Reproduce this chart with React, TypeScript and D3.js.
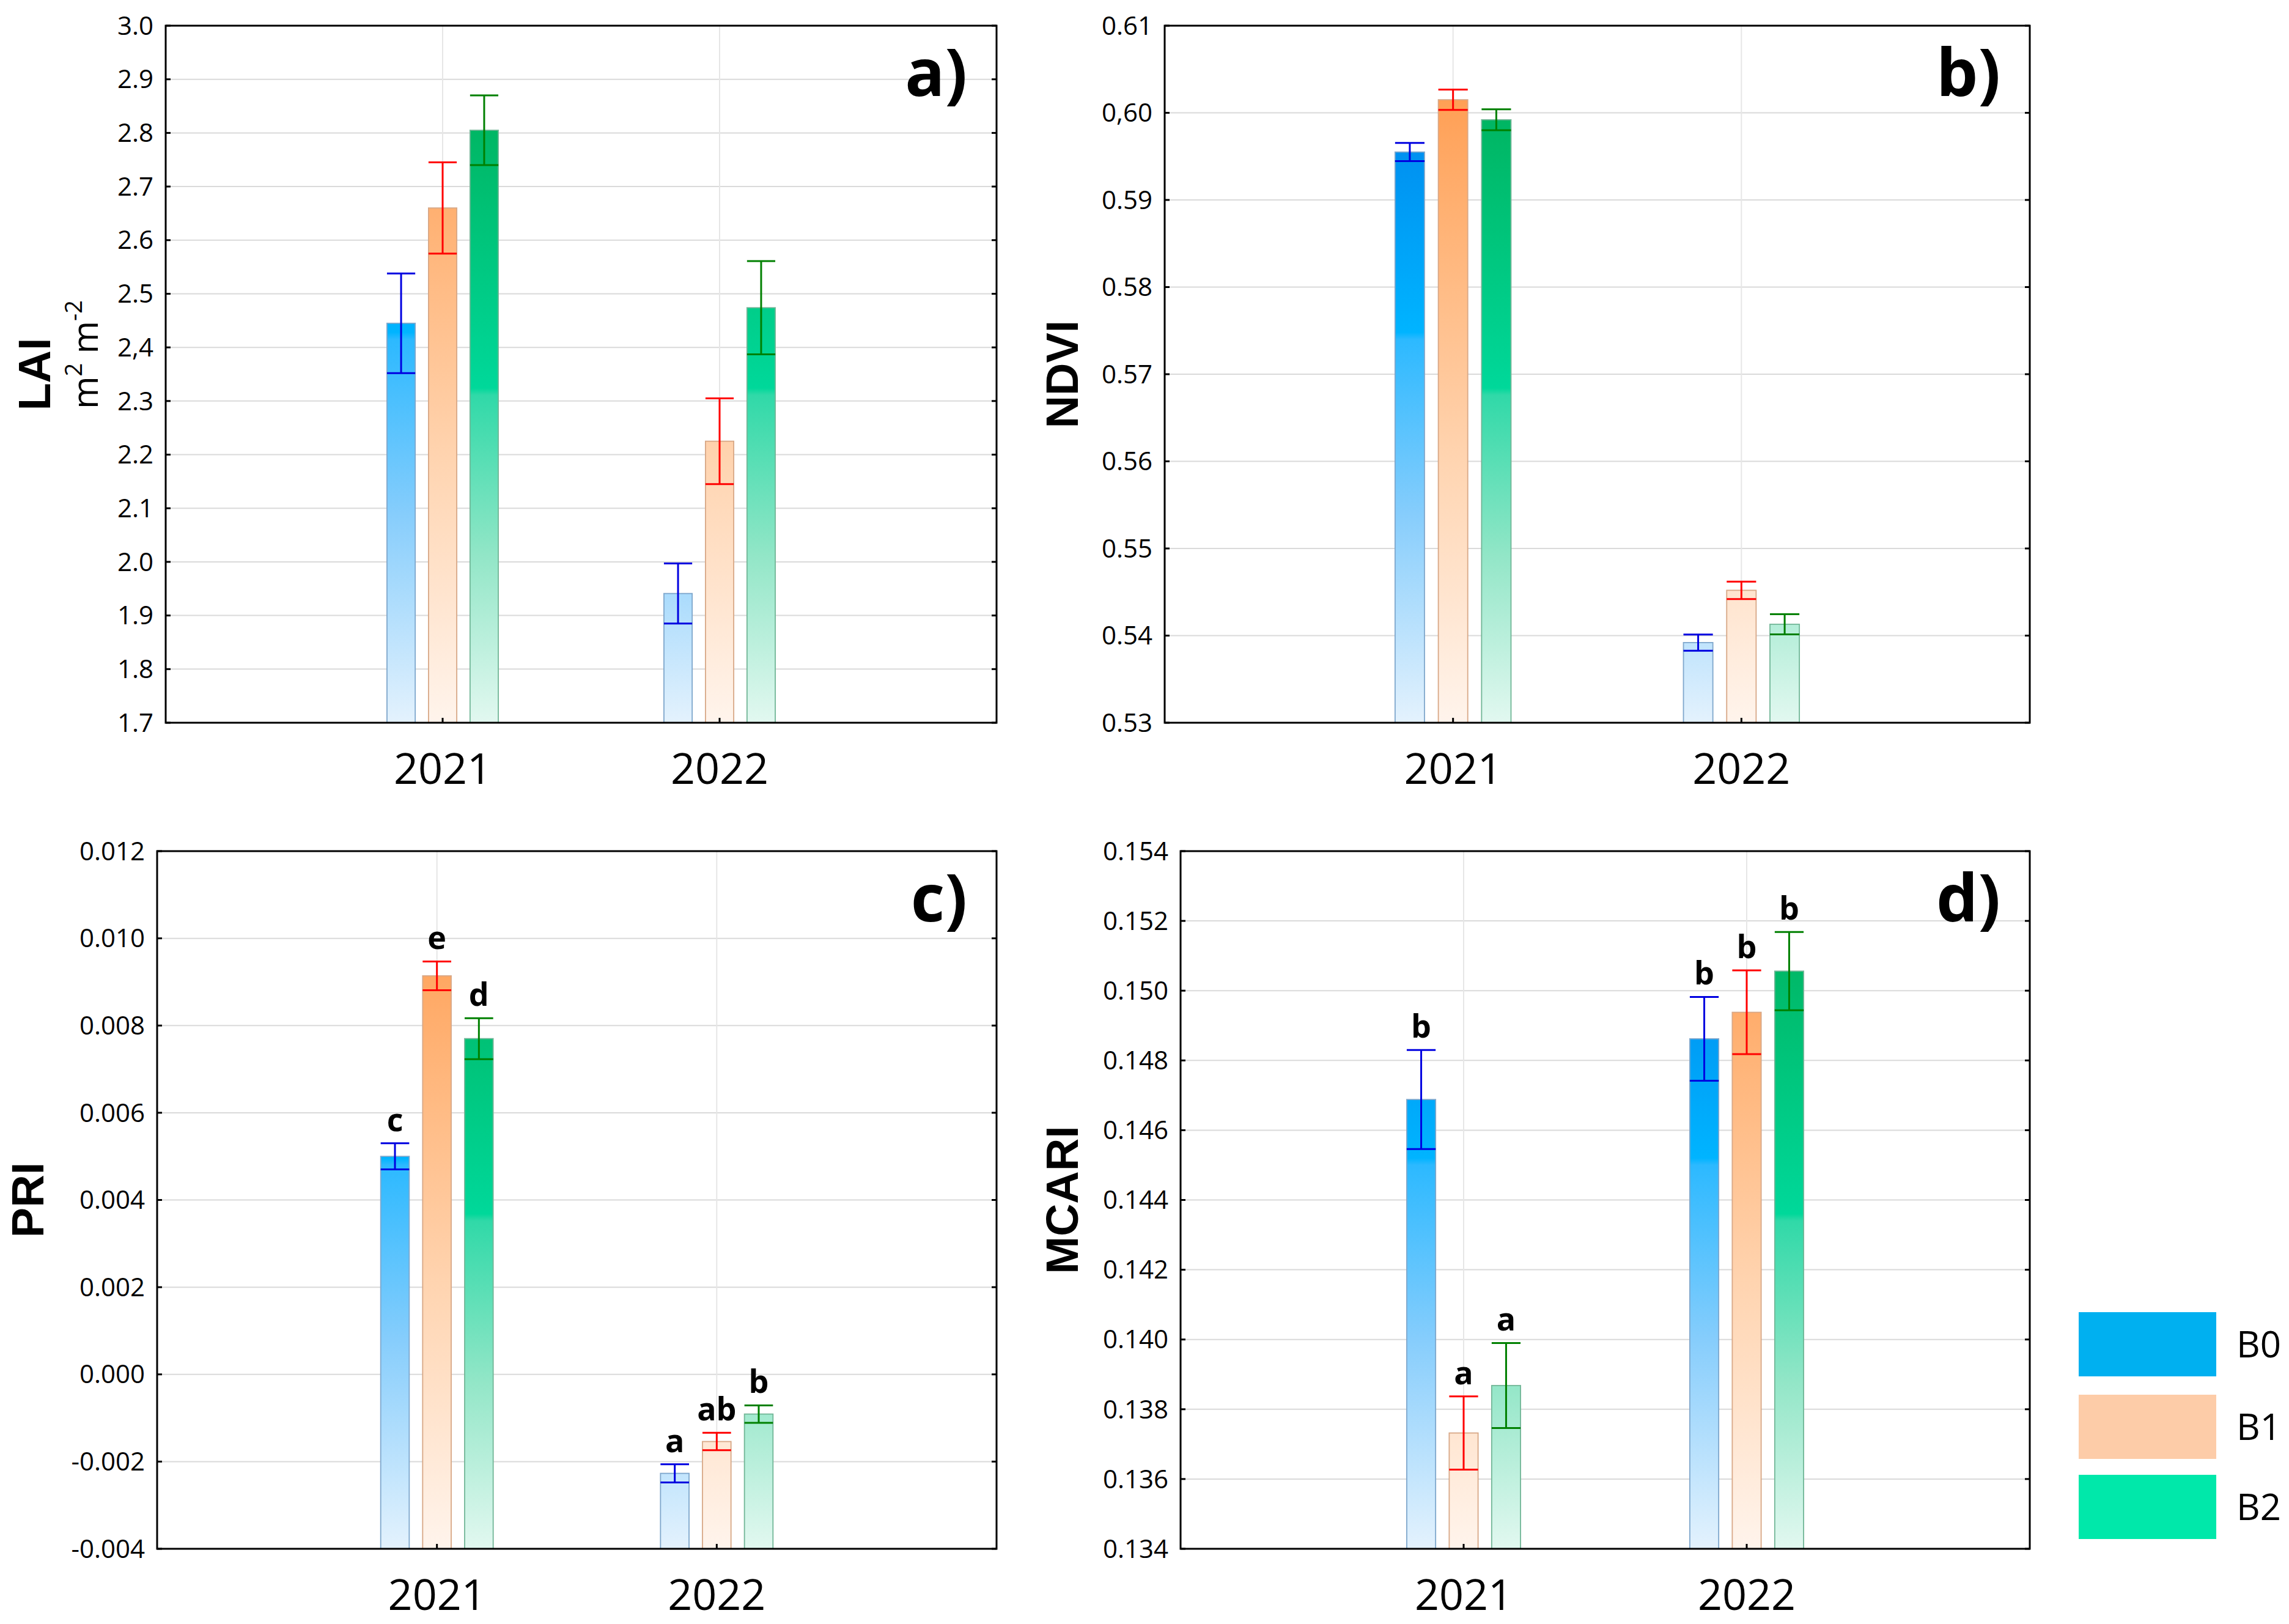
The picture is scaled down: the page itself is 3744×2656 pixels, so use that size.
import React from 'react';
import * as d3 from 'd3';

// categories and treatments
const years = ['2021', '2022'];
const treatments = ['B0', 'B1', 'B2'];

// [year][treatment] means and standard errors
const laiMean = [[2.445, 2.66, 2.805], [1.941, 2.225, 2.474]];
const laiErr = [[0.093, 0.085, 0.065], [0.056, 0.08, 0.087]];
const ndviMean = [[0.5955, 0.6015, 0.5992], [0.5392, 0.5452, 0.5413]];
const ndviErr = [[0.00105, 0.00117, 0.0012], [0.00093, 0.001, 0.00116]];
const priMean = [[0.005, 0.00914, 0.0077], [-0.00227, -0.00154, -0.00091]];
const priErr = [[0.0003, 0.00033, 0.00047], [0.00021, 0.0002, 0.0002]];
const priLetters = [['c', 'e', 'd'], ['a', 'ab', 'b']];
const mcariMean = [[0.14688, 0.13732, 0.13868], [0.14862, 0.14938, 0.15056]];
const mcariErr = [[0.00142, 0.00105, 0.00122], [0.0012, 0.0012, 0.00112]];
const mcariLetters = [['b', 'a', 'a'], ['b', 'b', 'b']];

// y ticks
const laiTicks = [1.7, 1.8, 1.9, 2.0, 2.1, 2.2, 2.3, 2.4, 2.5, 2.6, 2.7, 2.8, 2.9, 3.0];
const laiTickLabels = ['1.7', '1.8', '1.9', '2.0', '2.1', '2.2', '2.3', '2,4', '2.5', '2.6', '2.7', '2.8', '2.9', '3.0'];
const ndviTicks = [0.53, 0.54, 0.55, 0.56, 0.57, 0.58, 0.59, 0.6, 0.61];
const ndviTickLabels = ['0.53', '0.54', '0.55', '0.56', '0.57', '0.58', '0.59', '0,60', '0.61'];
const priTicks = [-0.004, -0.002, 0, 0.002, 0.004, 0.006, 0.008, 0.01, 0.012];
const priTickLabels = ['-0.004', '-0.002', '0.000', '0.002', '0.004', '0.006', '0.008', '0.010', '0.012'];
const mcariTicks = [0.134, 0.136, 0.138, 0.14, 0.142, 0.144, 0.146, 0.148, 0.15, 0.152, 0.154];
const mcariTickLabels = ['0.134', '0.136', '0.138', '0.140', '0.142', '0.144', '0.146', '0.148', '0.150', '0.152', '0.154'];

const W = 3744;
const H = 2656;
const TICK_FONT = '"Open Sans", "Noto Sans", sans-serif';
const TITLE_FONT = '"Liberation Sans", Arial, sans-serif';

// gradient stops per treatment (top of plot -> bottom of plot)
const gradStops = [
  [[0, '#0078e6'], [0.44, '#00b4ff'], [0.45, '#2cb9ff'], [0.7, '#86cdfc'], [1, '#e4f2fd']],
  [[0, '#ff9442'], [0.3, '#ffb478'], [0.62, '#ffd4b0'], [1, '#fff4ec']],
  [[0, '#00a94f'], [0.52, '#00d89a'], [0.53, '#30d9a8'], [0.76, '#92e6c7'], [1, '#e2f8f0']],
];
const barStroke = ['#7fa7cc', '#d8a887', '#72b697'];
const errColor = ['#0000e0', '#ff0000', '#008000'];
const legendColor = ['#00b0f0', '#fdcca8', '#00e8aa'];

type Panel = {
  id: string;
  label: string;
  title: string;
  unit?: boolean;
  left: number; right: number; top: number; bottom: number;
  ticks: number[]; tickLabels: string[];
  mean: number[][]; err: number[][];
  letters?: string[][];
  titleX: number;
};

const panels: Panel[] = [
  { id: 'a', label: 'a)', title: 'LAI', unit: true, left: 271, right: 1630, top: 42, bottom: 1182,
    ticks: laiTicks, tickLabels: laiTickLabels, mean: laiMean, err: laiErr, titleX: 82 },
  { id: 'b', label: 'b)', title: 'NDVI', left: 1905, right: 3320, top: 42, bottom: 1182,
    ticks: ndviTicks, tickLabels: ndviTickLabels, mean: ndviMean, err: ndviErr, titleX: 1763 },
  { id: 'c', label: 'c)', title: 'PRI', left: 257, right: 1630, top: 1392, bottom: 2533,
    ticks: priTicks, tickLabels: priTickLabels, mean: priMean, err: priErr, letters: priLetters, titleX: 71 },
  { id: 'd', label: 'd)', title: 'MCARI', left: 1931, right: 3320, top: 1392, bottom: 2533,
    ticks: mcariTicks, tickLabels: mcariTickLabels, mean: mcariMean, err: mcariErr, letters: mcariLetters, titleX: 1763 },
];

const PanelChart: React.FC<{ p: Panel }> = ({ p }) => {
  const x = d3.scalePoint<string>().domain(years).range([p.left, p.right]).padding(1);
  const y = d3.scaleLinear()
    .domain([p.ticks[0], p.ticks[p.ticks.length - 1]])
    .range([p.bottom, p.top]);
  const w = p.right - p.left;
  const spacing = w * 0.05;
  const bw = w * 0.034;
  const midY = (p.top + p.bottom) / 2;

  return (
    <g>
      <defs>
        {treatments.map((t, i) => (
          <linearGradient key={t} id={`g-${p.id}-${i}`} gradientUnits="userSpaceOnUse"
            x1={0} x2={0} y1={p.top} y2={p.bottom}>
            {gradStops[i].map(([o, c], k) => (
              <stop key={k} offset={o as number} stopColor={c as string} />
            ))}
          </linearGradient>
        ))}
      </defs>

      {/* grid */}
      {p.ticks.slice(1, -1).map(t => (
        <line key={t} x1={p.left} x2={p.right} y1={y(t)} y2={y(t)} stroke="#dadada" strokeWidth={2} />
      ))}
      {years.map(yr => (
        <line key={yr} x1={x(yr)} x2={x(yr)} y1={p.top} y2={p.bottom} stroke="#e6e6e6" strokeWidth={2} />
      ))}

      {/* bars */}
      {years.map((yr, yi) => treatments.map((t, ti) => {
        const cx = (x(yr) as number) + (ti - 1) * spacing;
        const m = p.mean[yi][ti];
        return (
          <rect key={yr + t} x={cx - bw / 2} y={y(m)} width={bw} height={p.bottom - y(m)}
            fill={`url(#g-${p.id}-${ti})`} stroke={barStroke[ti]} strokeWidth={1.8} />
        );
      }))}

      {/* error bars */}
      {years.map((yr, yi) => treatments.map((t, ti) => {
        const cx = (x(yr) as number) + (ti - 1) * spacing;
        const m = p.mean[yi][ti];
        const e = p.err[yi][ti];
        const yt = y(m + e);
        const yb = y(m - e);
        return (
          <g key={'e' + yr + t} stroke={errColor[ti]} strokeWidth={3}>
            <line x1={cx} x2={cx} y1={yt} y2={yb} />
            <line x1={cx - bw / 2} x2={cx + bw / 2} y1={yt} y2={yt} />
            <line x1={cx - bw / 2} x2={cx + bw / 2} y1={yb} y2={yb} />
          </g>
        );
      }))}

      {/* significance letters */}
      {p.letters && years.map((yr, yi) => treatments.map((t, ti) => {
        const cx = (x(yr) as number) + (ti - 1) * spacing;
        const top = y(p.mean[yi][ti] + p.err[yi][ti]);
        return (
          <text key={'l' + yr + t} x={cx} y={top - 20} textAnchor="middle"
            fontFamily={TICK_FONT} fontWeight="bold" fontSize={52}>{p.letters![yi][ti]}</text>
        );
      }))}

      {/* frame */}
      <rect x={p.left} y={p.top} width={w} height={p.bottom - p.top} fill="none" stroke="#000" strokeWidth={3} />

      {/* y ticks */}
      {p.ticks.map((t, i) => (
        <g key={'t' + t}>
          <line x1={p.left} x2={p.left + 8} y1={y(t)} y2={y(t)} stroke="#000" strokeWidth={3} />
          <line x1={p.right - 8} x2={p.right} y1={y(t)} y2={y(t)} stroke="#000" strokeWidth={3} />
          <text x={p.left - 20} y={y(t)} dy="0.35em" textAnchor="end" fontFamily={TICK_FONT} fontSize={42}>
            {p.tickLabels[i]}
          </text>
        </g>
      ))}

      {/* x ticks */}
      {years.map(yr => (
        <g key={'x' + yr}>
          <line x1={x(yr)} x2={x(yr)} y1={p.bottom} y2={p.bottom - 8} stroke="#000" strokeWidth={3} />
          <text x={x(yr)} y={p.bottom + 100} textAnchor="middle" fontFamily={TICK_FONT} fontSize={70}>{yr}</text>
        </g>
      ))}

      {/* panel label */}
      <text x={p.right - 48} y={p.top + 115} textAnchor="end" fontFamily={TICK_FONT} fontWeight="bold" fontSize={108}>
        {p.label}
      </text>

      {/* y title */}
      <text transform={`translate(${p.titleX},${midY}) rotate(-90)`} textAnchor="middle"
        fontFamily={TITLE_FONT} fontWeight="bold" fontSize={74}>{p.title}</text>
      {p.unit && (
        <text transform={`translate(160,${midY - 32}) rotate(-90)`} textAnchor="middle"
          fontFamily={TICK_FONT} fontSize={58}>
          <tspan>m</tspan>
          <tspan dy={-26} fontSize={38}>2</tspan>
          <tspan dy={26}> m</tspan>
          <tspan dy={-26} fontSize={38}>-2</tspan>
        </text>
      )}
    </g>
  );
};

// legend rows
const legendTop = [2146, 2281, 2412];

export default function App() {
  return (
    <svg width={W} height={H} viewBox={`0 0 ${W} ${H}`}
      style={{ position: 'absolute', left: 0, top: 0, background: '#fff' }}>
      <rect x={0} y={0} width={W} height={H} fill="#fff" />
      {panels.map(p => <PanelChart key={p.id} p={p} />)}
      {treatments.map((t, i) => (
        <g key={t}>
          <rect x={3400} y={legendTop[i]} width={225} height={105} fill={legendColor[i]} />
          <text x={3658} y={legendTop[i] + 52} dy="0.36em" fontFamily={TICK_FONT} fontSize={60}>{t}</text>
        </g>
      ))}
    </svg>
  );
}
